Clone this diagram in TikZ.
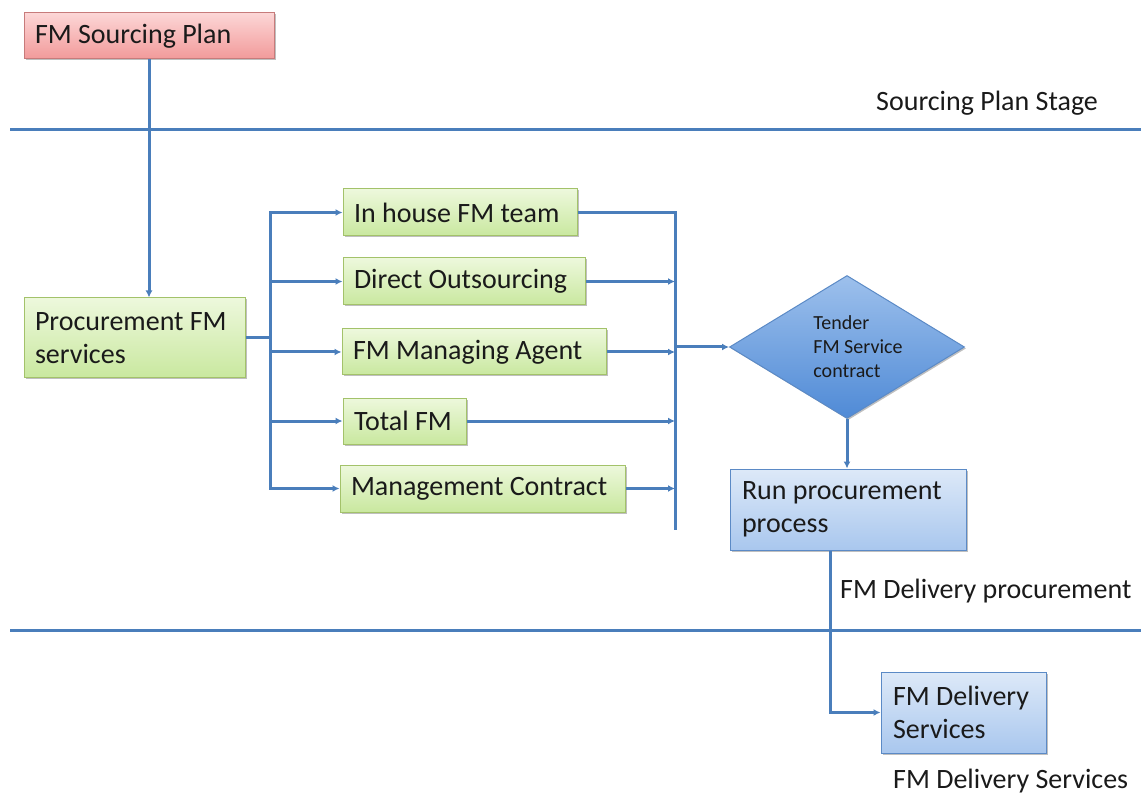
\documentclass[tikz,border=0pt]{standalone}
\usepackage{fontspec}
\setmainfont{Carlito}
\usetikzlibrary{shapes.geometric,arrows.meta,shadows}
\definecolor{linec}{HTML}{4A7EBB}
\definecolor{gborder}{HTML}{A3C26A}
\definecolor{gtop}{HTML}{EDF8DC}
\definecolor{gbot}{HTML}{C9E89F}
\definecolor{rborder}{HTML}{C77B7B}
\definecolor{rtop}{HTML}{FCD6D6}
\definecolor{rbot}{HTML}{F29A9A}
\definecolor{bborder}{HTML}{5B8AC6}
\definecolor{btop}{HTML}{DDE9F8}
\definecolor{bbot}{HTML}{A9C7EE}
\definecolor{dtop}{HTML}{9DC0EC}
\definecolor{dbot}{HTML}{4F8AD6}
\definecolor{txt}{HTML}{1A1A1A}
\tikzset{
  x=1pt, y=-1pt,
  boxbase/.style={draw, line width=1pt, inner xsep=11pt, inner ysep=0pt, align=flush left,
    text=txt, font=\fontsize{28}{33}\selectfont,
    drop shadow={shadow xshift=1.5pt, shadow yshift=-1.5pt, opacity=0.25, fill=black}},
  gbox/.style={boxbase, draw=gborder, top color=gtop, bottom color=gbot},
  rbox/.style={boxbase, draw=rborder, top color=rtop, bottom color=rbot},
  bbox/.style={boxbase, draw=bborder, top color=btop, bottom color=bbot},
  conn/.style={draw=linec, line width=3pt},
  arr/.style={conn, -{Latex[length=7pt,width=7pt]}},
  stageline/.style={draw=linec, line width=3pt},
  stagelabel/.style={anchor=base west, text=txt, font=\fontsize{28}{33}\selectfont, inner sep=0pt}
}
\begin{document}
\begin{tikzpicture}
\useasboundingbox (0,0) rectangle (1141,794);
% stage lines
\coordinate (s1a) at (10,130);
\coordinate (s1b) at (1141,130);
\coordinate (s2a) at (10,630);
\coordinate (s2b) at (1141,630);
\draw[stageline] (s1a) -- (s1b);
\draw[stageline] (s2a) -- (s2b);
\node[stagelabel] (lab1) at (876,111) {Sourcing Plan Stage};
\node[stagelabel] (lab2) at (840,598) {FM Delivery procurement};
\node[stagelabel] (lab3) at (893,788) {FM Delivery Services};

% nodes
\node[rbox, text width=228pt, minimum height=46pt] (sp) at (149,36) {FM Sourcing Plan};
\node[gbox, text width=199pt, minimum height=80pt] (proc) at (134.5,338) {Procurement FM\\services};

\node[gbox, text width=212pt, minimum height=47pt] (ih) at (460,212.5) {In house FM team};
\node[gbox, text width=220pt, minimum height=47pt] (do) at (464,281.5) {Direct Outsourcing};
\node[gbox, text width=242pt, minimum height=46pt] (ma) at (474,352) {FM Managing Agent};
\node[gbox, text width=101pt, minimum height=46pt] (tf) at (404.5,421) {Total FM};
\node[gbox, text width=263pt, minimum height=47pt] (mc) at (482.5,488.5) {Management Contract};

\node[diamond, aspect=1.64, minimum width=235pt, minimum height=143pt, inner sep=0pt,
      draw=bborder, line width=1pt, top color=dtop, bottom color=dbot,
      align=flush left, text=txt, font=\fontsize{20}{24}\selectfont,
      drop shadow={shadow xshift=1.5pt, shadow yshift=-1.5pt, opacity=0.25, fill=black}]
      (dia) at (847,347) {\hspace*{22pt}Tender\\\hspace*{22pt}FM Service\\\hspace*{22pt}contract};

\node[bbox, inner xsep=12pt, text width=212pt, minimum height=81pt] (run) at (848,509.5) {Run procurement\\process};
\node[bbox, inner xsep=12pt, text width=141pt, minimum height=81pt] (del) at (963.5,712.5) {FM Delivery\\Services};

% connectors
\coordinate (lb) at (270,0);
\coordinate (rbend) at (675,530);
\draw[arr] (sp.south) -- (sp.south |- proc.north);
\draw[conn] (proc.east) -- (proc.east -| lb);
\draw[arr] (proc.east -| lb) |- (ih.west);
\draw[arr] (proc.east -| lb) |- (do.west);
\draw[arr] (proc.east -| lb) |- (ma.west);
\draw[arr] (proc.east -| lb) |- (tf.west);
\draw[arr] (proc.east -| lb) |- (mc.west);

\draw[conn] (ih.east) -| (rbend);
\draw[arr] (do.east) -- (do.east -| rbend);
\draw[arr] (ma.east) -- (ma.east -| rbend);
\draw[arr] (tf.east) -- (tf.east -| rbend);
\draw[arr] (mc.east) -- (mc.east -| rbend);
\draw[arr] (dia.west -| rbend) -- (dia.west);

\draw[arr] (dia.south) -- (dia.south |- run.north);
\draw[arr] ([xshift=-18pt]run.south) |- (del.west);
\end{tikzpicture}
\end{document}
